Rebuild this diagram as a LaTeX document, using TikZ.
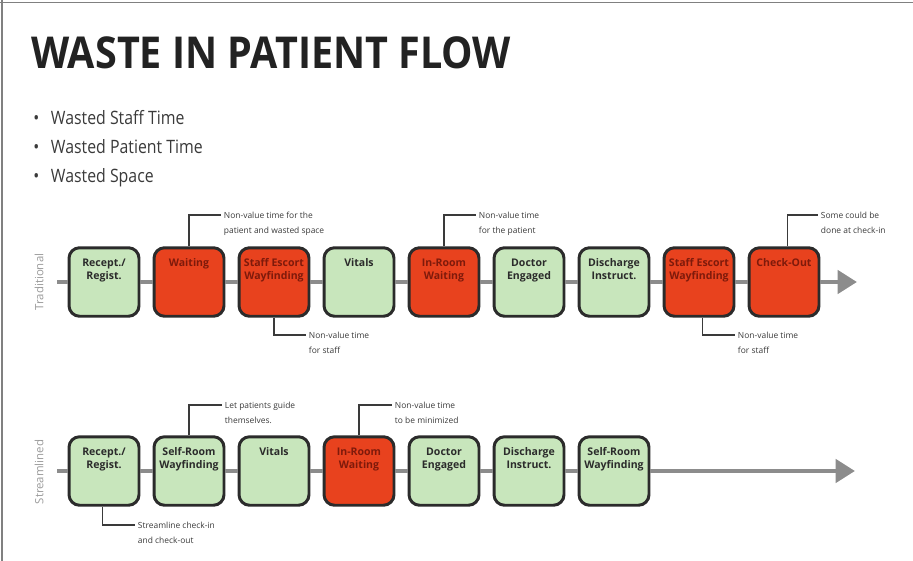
\documentclass[tikz,border=0pt]{standalone}
\usepackage{fontspec}
\setmainfont{Open Sans}
\newfontfamily\titlefont[FakeStretch=0.9]{Open Sans}
\newfontfamily\listfont[FakeStretch=0.86]{Open Sans}
\usetikzlibrary{positioning,
	arrows.meta}

\definecolor{okgreen}{HTML}{C8E6BC}
\definecolor{wastered}{HTML}{E8421E}
\definecolor{boxline}{HTML}{2B2B2B}
\definecolor{redink}{HTML}{7E1A0B}
\definecolor{flowgray}{HTML}{8C8C8C}
\definecolor{notegray}{HTML}{3A3A3A}
\definecolor{sidegray}{HTML}{9A9A9A}
\definecolor{titleink}{HTML}{222222}

\tikzset{
	stagebox/.style={draw=boxline, line width=1.7pt, rounded corners=6pt, minimum width=1.4cm, minimum height=1.37cm, inner sep=0pt},
	good/.style={stagebox, fill=okgreen},
	waste/.style={stagebox, fill=wastered},
	goodtext/.style={font=\bfseries\fontsize{6}{7.4}\selectfont, align=center, inner sep=0pt, text=boxline},
	wastetext/.style={goodtext, text=redink},
	flow/.style={draw=flowgray, line width=2.8pt},
	leader/.style={draw=notegray, line width=0.8pt},
	note/.style={font=\fontsize{4.8}{8.5}\selectfont, align=left, inner sep=0pt, text=notegray, anchor=north west},
	side/.style={font=\fontsize{6.5}{7}\selectfont, text=sidegray, rotate=90, inner sep=0pt}
}

\begin{document}
\begin{tikzpicture}[x=0.02cm, y=-0.02cm]
	\useasboundingbox (0, 0) rectangle (913, 561);
	\draw[line width=0.9pt, draw=gray] (0, 2.5) -- (913, 2.5);
	\draw[line width=0.9pt, draw=gray] (2, 0) -- (2, 561);

	% heading and list
	\node[anchor=base west, inner sep=0pt, font=\titlefont\bfseries\fontsize{25}{30}\selectfont, text=titleink] (title) at (31, 68) {WASTE IN PATIENT FLOW};
	\node[anchor=base west, inner sep=0pt, font=\listfont\fontsize{10.5}{12}\selectfont, text=notegray] (l1) at (33, 124) {\makebox[10pt][l]{\textbullet}Wasted Staff Time};
	\node[anchor=base west, inner sep=0pt, font=\listfont\fontsize{10.5}{12}\selectfont, text=notegray] (l2) at (33, 153) {\makebox[10pt][l]{\textbullet}Wasted Patient Time};
	\node[anchor=base west, inner sep=0pt, font=\listfont\fontsize{10.5}{12}\selectfont, text=notegray] (l3) at (33, 182) {\makebox[10pt][l]{\textbullet}Wasted Space};

	% traditional
	\node[side] (trad) at (39, 282) {Traditional};
	\node[good]  (r1) at (104, 282) {};
	\node[waste] (r2) at (189, 282) {};
	\node[waste] (r3) at (274, 282) {};
	\node[good]  (r4) at (359, 282) {};
	\node[waste] (r5) at (444, 282) {};
	\node[good]  (r6) at (529, 282) {};
	\node[good]  (r7) at (614, 282) {};
	\node[waste] (r8) at (699, 282) {};
	\node[waste] (r9) at (784, 282) {};

	\node[goodtext, below=7pt of r1.north]  (r1t) {Recept./\\Regist.};
	\node[wastetext, below=7pt of r2.north] (r2t) {Waiting};
	\node[wastetext, below=7pt of r3.north] (r3t) {Staff Escort\\Wayfinding};
	\node[goodtext, below=7pt of r4.north]  (r4t) {Vitals};
	\node[wastetext, below=7pt of r5.north] (r5t) {In-Room\\Waiting};
	\node[goodtext, below=7pt of r6.north]  (r6t) {Doctor\\Engaged};
	\node[goodtext, below=7pt of r7.north]  (r7t) {Discharge\\Instruct.};
	\node[wastetext, below=7pt of r8.north] (r8t) {Staff Escort\\Wayfinding};
	\node[wastetext, below=7pt of r9.north] (r9t) {Check-Out};

	\coordinate (rs) at (57, 282);
	\coordinate (re) at (857, 282);
	\draw[flow] (rs) -- (r1);
	\draw[flow] (r1) -- (r2);
	\draw[flow] (r2) -- (r3);
	\draw[flow] (r3) -- (r4);
	\draw[flow] (r4) -- (r5);
	\draw[flow] (r5) -- (r6);
	\draw[flow] (r6) -- (r7);
	\draw[flow] (r7) -- (r8);
	\draw[flow] (r8) -- (r9);
	\draw[flow, -{Triangle[width=13pt, length=11pt]}] (r9) -- (re);

	\coordinate (c2) at (221, 215);
	\draw[leader] (r2.north) |- (c2);
	\node[note] (n2) at ([xshift=1.5pt, yshift=2pt]c2) {Non-value time for the\\patient and wasted space};
	\coordinate (c3) at (306, 335);
	\draw[leader] (r3.south) |- (c3);
	\node[note] (n3) at ([xshift=1.5pt, yshift=2pt]c3) {Non-value time\\for staff};
	\coordinate (c5) at (476, 215);
	\draw[leader] (r5.north) |- (c5);
	\node[note] (n5) at ([xshift=1.5pt, yshift=2pt]c5) {Non-value time\\for the patient};
	\coordinate (c8) at (735, 335);
	\draw[leader] ([xshift=2pt]r8.south) |- (c8);
	\node[note] (n8) at ([xshift=1.5pt, yshift=2pt]c8) {Non-value time\\for staff};
	\coordinate (c9) at (818, 215);
	\draw[leader] ([xshift=2pt]r9.north) |- (c9);
	\node[note] (n9) at ([xshift=1.5pt, yshift=2pt]c9) {Some could be\\done at check-in};

	% streamlined
	\node[side] (stream) at (39, 472) {Streamlined};
	\node[good]  (s1) at (104, 471) {};
	\node[good]  (s2) at (189, 471) {};
	\node[good]  (s3) at (274, 471) {};
	\node[waste] (s4) at (359, 471) {};
	\node[good]  (s5) at (444, 471) {};
	\node[good]  (s6) at (529, 471) {};
	\node[good]  (s7) at (614, 471) {};

	\node[goodtext, below=7pt of s1.north]  (s1t) {Recept./\\Regist.};
	\node[goodtext, below=7pt of s2.north]  (s2t) {Self-Room\\Wayfinding};
	\node[goodtext, below=7pt of s3.north]  (s3t) {Vitals};
	\node[wastetext, below=7pt of s4.north] (s4t) {In-Room\\Waiting};
	\node[goodtext, below=7pt of s5.north]  (s5t) {Doctor\\Engaged};
	\node[goodtext, below=7pt of s6.north]  (s6t) {Discharge\\Instruct.};
	\node[goodtext, below=7pt of s7.north]  (s7t) {Self-Room\\Wayfinding};

	\coordinate (ss) at (57, 471);
	\coordinate (se) at (855, 471);
	\draw[flow] (ss) -- (s1);
	\draw[flow] (s1) -- (s2);
	\draw[flow] (s2) -- (s3);
	\draw[flow] (s3) -- (s4);
	\draw[flow] (s4) -- (s5);
	\draw[flow] (s5) -- (s6);
	\draw[flow] (s6) -- (s7);
	\draw[flow, -{Triangle[width=13pt, length=11pt]}] (s7) -- (se);

	\coordinate (d1) at (135, 525);
	\draw[leader] ([xshift=-1pt]s1.south) |- (d1);
	\node[note] (m1) at ([xshift=1.5pt, yshift=2pt]d1) {Streamline check-in\\and check-out};
	\coordinate (d2) at (222, 405);
	\draw[leader] (s2.north) |- (d2);
	\node[note] (m2) at ([xshift=1.5pt, yshift=2pt]d2) {Let patients guide\\themselves.};
	\coordinate (d4) at (392, 405);
	\draw[leader] (s4.north) |- (d4);
	\node[note] (m4) at ([xshift=1.5pt, yshift=2pt]d4) {Non-value time\\to be minimized};
\end{tikzpicture}
\end{document}
